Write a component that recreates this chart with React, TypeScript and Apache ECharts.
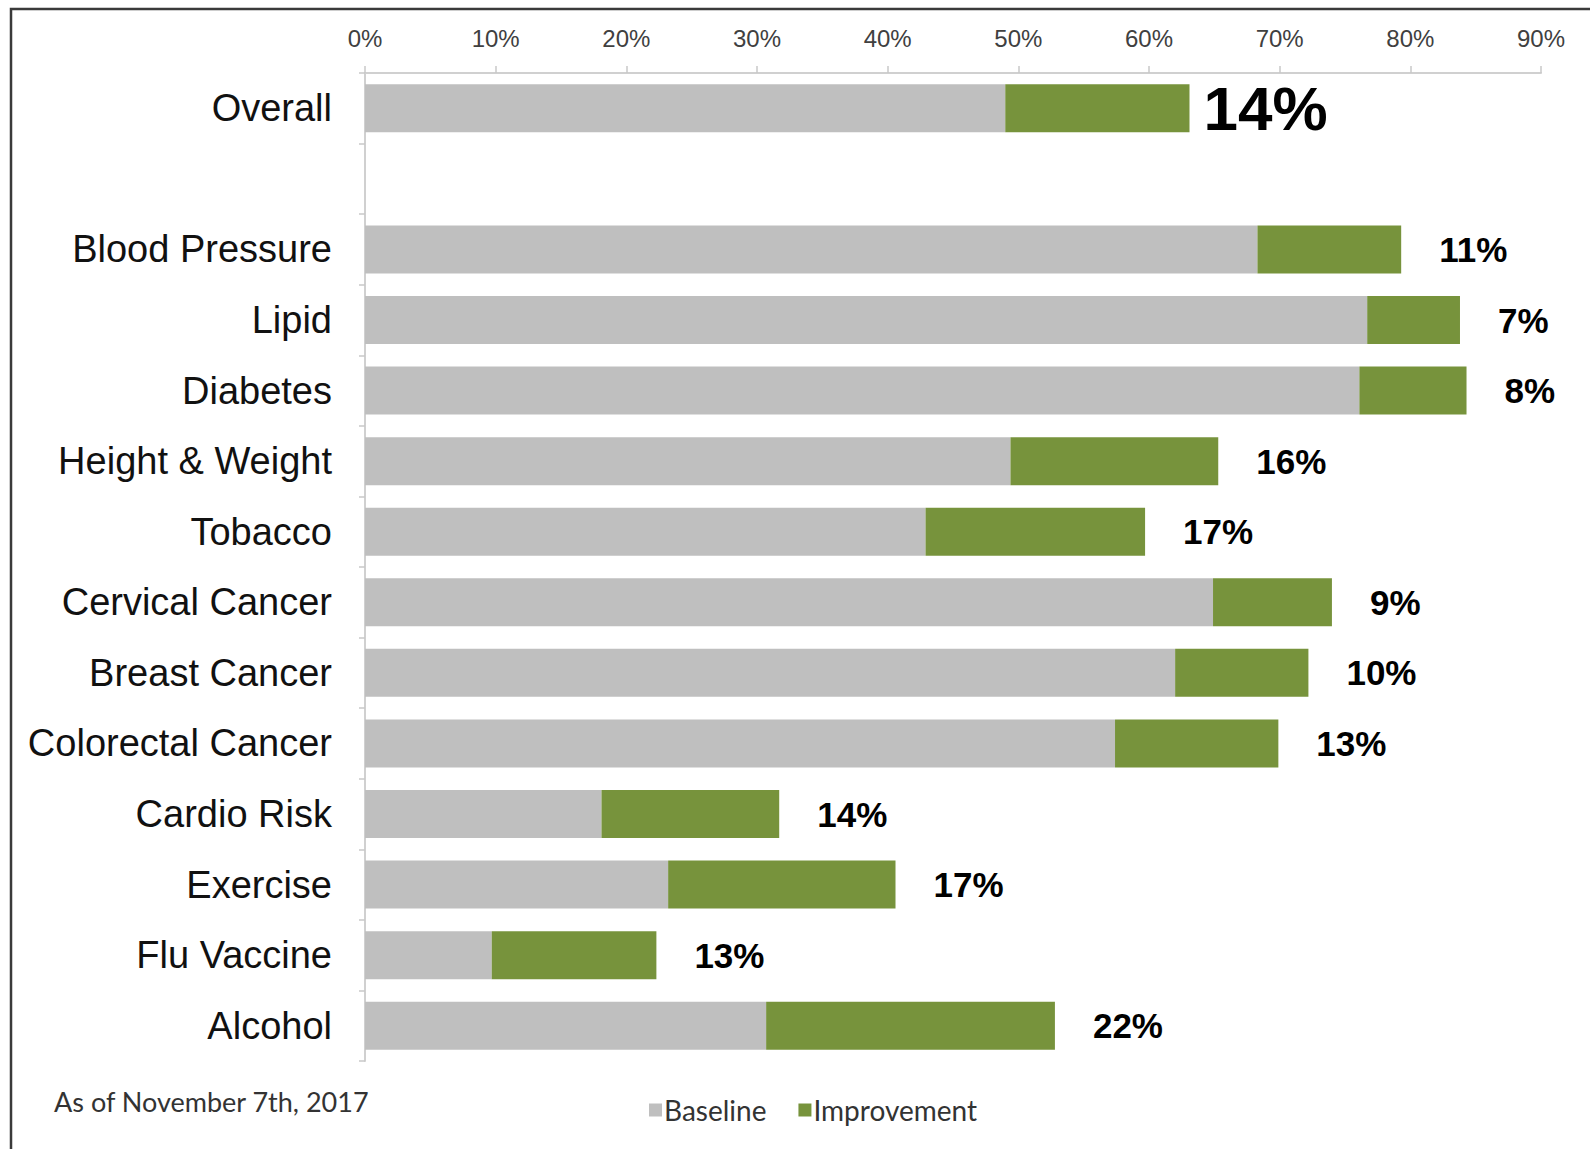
import React, { useEffect, useRef } from "react";
import * as echarts from "echarts";

const categories = [
  "Overall",
  "",
  "Blood Pressure",
  "Lipid",
  "Diabetes",
  "Height & Weight",
  "Tobacco",
  "Cervical Cancer",
  "Breast Cancer",
  "Colorectal Cancer",
  "Cardio Risk",
  "Exercise",
  "Flu Vaccine",
  "Alcohol",
];

const baseline = [49.0, null, 68.3, 76.7, 76.1, 49.4, 42.9, 64.9, 62.0, 57.4, 18.1, 23.2, 9.7, 30.7];
const improvement = [14.1, null, 11.0, 7.1, 8.2, 15.9, 16.8, 9.1, 10.2, 12.5, 13.6, 17.4, 12.6, 22.1];
const improvementLabels = ["14%", "", "11%", "7%", "8%", "16%", "17%", "9%", "10%", "13%", "14%", "17%", "13%", "22%"];
const xTicks = { min: 0, max: 90, interval: 10 };
const footnote = "As of November 7th, 2017";
const seriesNames = ["Baseline", "Improvement"];

export default function App() {
  const ref = useRef<HTMLDivElement>(null);

  useEffect(() => {
    document.body.style.margin = "0";
    const chart = echarts.init(ref.current!, undefined, { renderer: "svg" });
    const option: any = {
      animation: false,
      backgroundColor: "#ffffff",
      grid: { left: 365, right: 49, top: 73, bottom: 88, containLabel: false },
      legend: {
        data: seriesNames,
        bottom: 20,
        left: 644,
        itemWidth: 13,
        itemHeight: 13,
        itemGap: 32,
        icon: "rect",
        textStyle: { fontFamily: "Lato", fontSize: 28, color: "#333333", padding: [0, 0, 0, -3] },
      },
      xAxis: {
        type: "value",
        position: "top",
        min: xTicks.min,
        max: xTicks.max,
        interval: xTicks.interval,
        splitLine: { show: false },
        axisLine: { show: true, lineStyle: { color: "#d0d0d0", width: 2 } },
        axisTick: { show: true, length: 7, lineStyle: { color: "#c8c8c8", width: 1.5 } },
        axisLabel: {
          formatter: "{value}%",
          fontFamily: "Liberation Sans",
          fontSize: 24,
          color: "#404040",
          margin: 23,
        },
      },
      yAxis: {
        type: "category",
        inverse: true,
        data: categories,
        axisLine: { show: true, lineStyle: { color: "#d0d0d0", width: 2 } },
        axisTick: { show: true, length: 6, lineStyle: { color: "#c8c8c8", width: 1.5 } },
        axisLabel: {
          fontFamily: "Liberation Sans",
          fontSize: 38,
          color: "#111111",
          margin: 33,
        },
      },
      series: [
        {
          name: seriesNames[0],
          type: "bar",
          stack: "total",
          barCategoryGap: "32%",
          itemStyle: { color: "#bfbfbf" },
          data: baseline.map((v) => (v === null ? "-" : v)),
        },
        {
          name: seriesNames[1],
          type: "bar",
          stack: "total",
          barCategoryGap: "32%",
          itemStyle: { color: "#77933c" },
          label: {
            show: true,
            position: "right",
            distance: 38,
            fontFamily: "Liberation Sans",
            fontWeight: "bold",
            fontSize: 35,
            color: "#000000",
            formatter: (p: any) => improvementLabels[p.dataIndex],
          },
          data: improvement.map((v, i) => {
            if (v === null) return "-";
            if (i === 0) {
              return {
                value: v,
                label: { fontSize: 62, distance: 14 },
              };
            }
            return v;
          }),
        },
      ],
      graphic: [
        {
          type: "rect",
          shape: { x: 11, y: 9, width: 1620, height: 1200 },
          style: { fill: "none", stroke: "#3a3a3a", lineWidth: 2.5 },
          silent: true,
        },
        {
          type: "text",
          left: 54,
          top: 1088,
          style: {
            text: footnote,
            fontFamily: "Lato",
            fontSize: 27,
            fill: "#333333",
          },
        },
      ],
    };
    chart.setOption(option);
    return () => chart.dispose();
  }, []);

  return <div ref={ref} style={{ width: 1590, height: 1149 }} />;
}
